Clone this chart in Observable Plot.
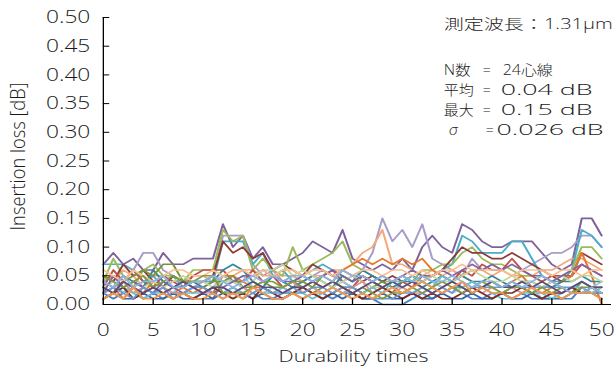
<!DOCTYPE html>
<html>
<head>
<meta charset="utf-8">
<script src="https://cdn.jsdelivr.net/npm/d3@7"></script>
<script src="https://cdn.jsdelivr.net/npm/@observablehq/plot@0.6"></script>
<style>
  html, body { margin: 0; padding: 0; background: #fff; }
  #chart { width: 616px; height: 369px; overflow: hidden; }
  #chart svg { transform-origin: 0 0; }
</style>
</head>
<body>
<div id="chart"></div>
<script>
// Durability test: insertion loss of each fibre after every mating cycle
const cycles = [0,1,2,3,4,5,6,7,8,9,10,11,12,13,14,15,16,17,18,19,20,21,22,23,24,25,
  26,27,28,29,30,31,32,33,34,35,36,37,38,39,40,41,42,43,44,45,46,47,48,49,50];

// insertion loss per fibre [dB], one value per cycle
const fiber01 = [0.07,0.09,0.07,0.08,0.06,0.06,0.09,0.07,0.07,0.08,
  0.08,0.08,0.14,0.10,0.12,0.08,0.10,0.07,0.07,0.08,
  0.09,0.11,0.10,0.09,0.13,0.08,0.07,0.06,0.07,0.06,
  0.08,0.06,0.10,0.12,0.10,0.09,0.14,0.13,0.11,0.10,
  0.10,0.11,0.11,0.11,0.09,0.07,0.06,0.07,0.15,0.15,0.12];
const fiber02 = [0.04,0.05,0.04,0.06,0.09,0.09,0.06,0.05,0.04,0.03,
  0.04,0.04,0.12,0.12,0.12,0.07,0.05,0.06,0.04,0.05,
  0.04,0.05,0.06,0.05,0.04,0.05,0.06,0.09,0.15,0.11,
  0.13,0.10,0.14,0.08,0.07,0.06,0.05,0.08,0.06,0.07,
  0.06,0.05,0.06,0.07,0.08,0.09,0.09,0.10,0.12,0.12,0.10];
const fiber03 = [0.05,0.04,0.06,0.05,0.03,0.05,0.05,0.04,0.04,0.05,
  0.05,0.04,0.05,0.05,0.06,0.06,0.05,0.05,0.05,0.05,
  0.04,0.05,0.05,0.06,0.06,0.07,0.09,0.10,0.13,0.07,
  0.07,0.06,0.05,0.06,0.05,0.06,0.05,0.06,0.06,0.05,
  0.06,0.05,0.05,0.05,0.06,0.06,0.07,0.08,0.08,0.07,0.06];
const fiber04 = [0.07,0.07,0.07,0.06,0.04,0.05,0.03,0.05,0.03,0.04,
  0.04,0.04,0.11,0.11,0.11,0.07,0.09,0.05,0.06,0.04,
  0.05,0.06,0.07,0.06,0.05,0.04,0.05,0.04,0.03,0.04,
  0.05,0.04,0.05,0.05,0.06,0.07,0.12,0.11,0.09,0.09,
  0.09,0.11,0.11,0.08,0.05,0.04,0.04,0.06,0.13,0.12,0.10];
const fiber05 = [0.04,0.08,0.05,0.03,0.06,0.07,0.05,0.05,0.04,0.06,
  0.06,0.06,0.13,0.11,0.12,0.06,0.08,0.06,0.05,0.10,
  0.06,0.07,0.08,0.09,0.11,0.07,0.06,0.05,0.04,0.04,
  0.05,0.04,0.06,0.06,0.07,0.07,0.09,0.10,0.08,0.07,
  0.07,0.06,0.05,0.05,0.04,0.05,0.05,0.06,0.10,0.10,0.08];
const fiber06 = [0.05,0.04,0.07,0.05,0.06,0.04,0.03,0.05,0.04,0.04,
  0.04,0.05,0.11,0.09,0.10,0.08,0.09,0.06,0.07,0.06,
  0.05,0.07,0.06,0.05,0.06,0.05,0.04,0.05,0.04,0.05,
  0.04,0.05,0.04,0.05,0.06,0.08,0.10,0.09,0.09,0.08,
  0.08,0.09,0.08,0.07,0.06,0.05,0.04,0.05,0.09,0.08,0.07];
const fiber07 = [0.03,0.06,0.04,0.06,0.04,0.03,0.05,0.04,0.03,0.05,
  0.06,0.06,0.06,0.04,0.04,0.06,0.04,0.05,0.03,0.04,
  0.03,0.04,0.05,0.06,0.04,0.03,0.05,0.04,0.03,0.02,
  0.04,0.03,0.05,0.04,0.03,0.04,0.06,0.05,0.07,0.06,
  0.06,0.08,0.06,0.05,0.04,0.05,0.05,0.05,0.07,0.06,0.05];
const fiber08 = [0.02,0.03,0.01,0.03,0.02,0.04,0.03,0.02,0.03,0.02,
  0.03,0.02,0.05,0.05,0.04,0.03,0.03,0.02,0.03,0.02,
  0.03,0.04,0.03,0.04,0.06,0.07,0.08,0.07,0.08,0.07,
  0.08,0.07,0.08,0.06,0.05,0.04,0.05,0.04,0.03,0.04,
  0.03,0.04,0.05,0.03,0.02,0.03,0.04,0.05,0.09,0.05,0.00];
const fiber09 = [0.02,0.01,0.02,0.03,0.01,0.02,0.01,0.02,0.02,0.01,
  0.01,0.01,0.04,0.04,0.03,0.02,0.01,0.01,0.02,0.02,
  0.02,0.03,0.02,0.01,0.02,0.02,0.01,0.01,0.00,0.00,
  0.00,0.01,0.02,0.01,0.02,0.03,0.02,0.01,0.01,0.02,
  0.02,0.01,0.02,0.01,0.01,0.02,0.01,0.01,0.03,0.02,0.02];
const fiber10 = [0.03,0.04,0.02,0.04,0.03,0.02,0.03,0.02,0.04,0.03,
  0.02,0.03,0.05,0.04,0.05,0.03,0.02,0.03,0.02,0.03,
  0.04,0.03,0.02,0.03,0.04,0.03,0.02,0.03,0.02,0.03,
  0.03,0.02,0.03,0.04,0.03,0.02,0.03,0.04,0.03,0.02,
  0.02,0.03,0.02,0.03,0.01,0.01,0.02,0.03,0.02,0.03,0.04];
const fiber11 = [0.04,0.03,0.05,0.04,0.03,0.06,0.04,0.03,0.03,0.04,
  0.03,0.04,0.06,0.07,0.06,0.04,0.03,0.05,0.04,0.03,
  0.04,0.05,0.04,0.03,0.05,0.04,0.06,0.05,0.04,0.03,
  0.04,0.04,0.03,0.04,0.05,0.04,0.05,0.04,0.04,0.05,
  0.04,0.03,0.04,0.04,0.03,0.03,0.04,0.04,0.05,0.04,0.04];
const fiber12 = [0.03,0.02,0.04,0.05,0.06,0.05,0.07,0.07,0.04,0.03,
  0.03,0.04,0.04,0.05,0.03,0.03,0.04,0.03,0.03,0.04,
  0.03,0.02,0.03,0.04,0.03,0.03,0.02,0.03,0.04,0.03,
  0.02,0.03,0.04,0.03,0.02,0.03,0.03,0.02,0.03,0.04,
  0.03,0.04,0.03,0.02,0.03,0.04,0.03,0.02,0.04,0.03,0.03];
const fiber13 = [0.01,0.02,0.01,0.01,0.02,0.01,0.01,0.02,0.01,0.01,
  0.02,0.01,0.02,0.03,0.02,0.01,0.02,0.01,0.01,0.02,
  0.01,0.02,0.01,0.02,0.01,0.02,0.01,0.01,0.02,0.01,
  0.01,0.02,0.01,0.01,0.02,0.01,0.01,0.02,0.01,0.01,
  0.02,0.01,0.01,0.02,0.01,0.01,0.01,0.02,0.02,0.02,0.01];
const fiber14 = [0.03,0.04,0.03,0.02,0.03,0.04,0.03,0.04,0.05,0.04,
  0.04,0.03,0.04,0.04,0.03,0.04,0.06,0.06,0.07,0.05,
  0.06,0.05,0.04,0.03,0.04,0.05,0.04,0.03,0.03,0.04,
  0.03,0.04,0.04,0.05,0.04,0.04,0.05,0.06,0.05,0.04,
  0.04,0.05,0.04,0.04,0.03,0.04,0.05,0.04,0.05,0.05,0.04];
const fiber15 = [0.02,0.03,0.04,0.02,0.03,0.02,0.03,0.02,0.02,0.03,
  0.02,0.02,0.03,0.02,0.03,0.02,0.03,0.02,0.03,0.04,
  0.02,0.03,0.02,0.03,0.02,0.03,0.04,0.02,0.03,0.02,
  0.03,0.02,0.02,0.03,0.02,0.03,0.02,0.03,0.02,0.03,
  0.02,0.03,0.02,0.03,0.02,0.02,0.03,0.02,0.03,0.02,0.03];
const fiber16 = [0.02,0.05,0.03,0.04,0.03,0.02,0.04,0.03,0.02,0.03,
  0.03,0.02,0.03,0.04,0.05,0.05,0.06,0.05,0.04,0.04,
  0.05,0.04,0.05,0.06,0.05,0.04,0.05,0.04,0.05,0.04,
  0.05,0.06,0.05,0.05,0.06,0.05,0.06,0.07,0.06,0.07,
  0.06,0.07,0.06,0.05,0.05,0.04,0.05,0.06,0.07,0.06,0.05];
const fiber17 = [0.01,0.02,0.03,0.02,0.01,0.02,0.02,0.01,0.02,0.02,
  0.02,0.03,0.02,0.03,0.02,0.03,0.02,0.02,0.03,0.02,
  0.02,0.01,0.02,0.03,0.02,0.01,0.02,0.03,0.02,0.04,
  0.04,0.05,0.04,0.03,0.05,0.04,0.03,0.04,0.03,0.02,
  0.01,0.01,0.02,0.02,0.02,0.01,0.02,0.03,0.03,0.02,0.03];
const fiber18 = [0.06,0.05,0.04,0.06,0.05,0.04,0.05,0.06,0.06,0.05,
  0.05,0.06,0.05,0.06,0.06,0.05,0.06,0.05,0.06,0.06,
  0.05,0.06,0.06,0.05,0.06,0.05,0.06,0.06,0.05,0.06,
  0.06,0.05,0.06,0.05,0.06,0.06,0.07,0.06,0.06,0.06,
  0.06,0.05,0.06,0.06,0.06,0.05,0.06,0.06,0.05,0.06,0.06];
const fiber19 = [0.01,0.02,0.03,0.01,0.02,0.03,0.02,0.01,0.02,0.01,
  0.02,0.03,0.02,0.01,0.02,0.01,0.03,0.02,0.01,0.02,
  0.03,0.02,0.01,0.02,0.03,0.02,0.01,0.02,0.03,0.02,
  0.01,0.02,0.01,0.02,0.01,0.01,0.02,0.03,0.02,0.01,
  0.02,0.02,0.03,0.02,0.01,0.02,0.02,0.03,0.02,0.03,0.02];
const fiber20 = [0.02,0.03,0.02,0.01,0.03,0.02,0.03,0.01,0.02,0.03,
  0.03,0.02,0.01,0.02,0.01,0.02,0.03,0.02,0.02,0.03,
  0.02,0.03,0.03,0.02,0.03,0.03,0.02,0.01,0.01,0.01,
  0.02,0.02,0.03,0.02,0.03,0.02,0.04,0.03,0.03,0.03,
  0.03,0.03,0.03,0.03,0.03,0.03,0.03,0.03,0.04,0.03,0.02];
const fiber21 = [0.05,0.04,0.03,0.04,0.05,0.03,0.04,0.05,0.04,0.04,
  0.05,0.05,0.02,0.02,0.02,0.03,0.04,0.04,0.03,0.04,
  0.04,0.03,0.05,0.04,0.03,0.02,0.03,0.02,0.01,0.02,
  0.02,0.03,0.02,0.03,0.04,0.03,0.02,0.03,0.04,0.03,
  0.02,0.03,0.03,0.02,0.03,0.02,0.03,0.02,0.03,0.03,0.02];
const fiber22 = [0.03,0.02,0.04,0.03,0.02,0.03,0.02,0.03,0.04,0.03,
  0.02,0.03,0.03,0.02,0.03,0.04,0.03,0.03,0.02,0.03,
  0.03,0.04,0.03,0.04,0.03,0.02,0.03,0.04,0.03,0.04,
  0.03,0.04,0.03,0.02,0.03,0.04,0.03,0.02,0.03,0.04,
  0.03,0.03,0.04,0.03,0.04,0.03,0.02,0.03,0.04,0.03,0.03];
const fiber23 = [0.04,0.03,0.05,0.03,0.04,0.04,0.05,0.03,0.03,0.04,
  0.04,0.05,0.04,0.03,0.04,0.05,0.04,0.05,0.04,0.05,
  0.05,0.04,0.05,0.04,0.06,0.05,0.05,0.04,0.05,0.04,
  0.05,0.04,0.05,0.04,0.04,0.05,0.04,0.03,0.04,0.04,
  0.03,0.04,0.03,0.04,0.05,0.04,0.03,0.02,0.02,0.03,0.02];
const fiber24 = [0.01,0.02,0.01,0.03,0.01,0.01,0.02,0.01,0.02,0.01,
  0.01,0.02,0.01,0.02,0.01,0.03,0.02,0.01,0.01,0.02,
  0.01,0.02,0.02,0.03,0.02,0.01,0.02,0.01,0.02,0.03,
  0.02,0.03,0.04,0.03,0.02,0.03,0.04,0.02,0.03,0.02,
  0.02,0.01,0.02,0.03,0.02,0.02,0.01,0.02,0.02,0.02,0.01];

const fibers = [fiber01, fiber02, fiber03, fiber04, fiber05, fiber06, fiber07, fiber08,
  fiber09, fiber10, fiber11, fiber12, fiber13, fiber14, fiber15, fiber16,
  fiber17, fiber18, fiber19, fiber20, fiber21, fiber22, fiber23, fiber24];
const fiberNames = ["#1","#2","#3","#4","#5","#6","#7","#8","#9","#10","#11","#12",
  "#13","#14","#15","#16","#17","#18","#19","#20","#21","#22","#23","#24"];
const fiberColors = ["#7E619A","#A89CC9","#F5A97A","#4BACC6","#9BBB59","#8E3A38",
  "#C0504D","#E6782A","#4F81BD","#93CDDD","#31859C","#77933C",
  "#3B64A0","#C3D69B","#D99694","#8064A2","#6FBDD1","#FAC090",
  "#7B2E2C","#6A98D0","#7E9D40","#5F4A7E","#8DB3E2","#F79646"];

const xTicks = [0,5,10,15,20,25,30,35,40,45,50];
const yTicks = [0,0.05,0.10,0.15,0.20,0.25,0.30,0.35,0.40,0.45,0.50];

const xTitle = "Durability times";
const yTitle = "Insertion loss [dB]";
const wavelengthNote = "測定波長：1.31μm";
const statLabels = ["N数", "平均", "最大", "σ"];
const statValues = ["24心線", "0.04 dB", "0.15 dB", "0.026 dB"];

const rows = fibers.flatMap((vals, i) =>
  vals.map((v, j) => ({cycle: cycles[j], loss: v, fiber: fiberNames[i]})));

// drawn narrow, then widened horizontally to the page width
const stretch = 1.3;
const baseWidth = 474;
const font = "'Open Sans', 'Noto Sans CJK JP', sans-serif";
const weight = 350;
const noteWeight = 300;
const ink = "#1a1a1a";

// text block in the upper right: column offsets from the frame's left edge
const noteSize = 14;
const statTop = 53, statGap = 20;
const statMarks = statLabels.flatMap((label, i) => {
  const isSigma = label === "σ";
  const common = {text: d => d, frameAnchor: "top-left", textAnchor: "start", lineAnchor: "middle",
    dy: statTop + i * statGap, fontSize: noteSize, fontWeight: noteWeight, fill: ink};
  return [
    Plot.text([label], {...common, dx: isSigma ? 265.6 : 261.8, fontStyle: isSigma ? "italic" : "normal"}),
    Plot.text(["="], {...common, dx: isSigma ? 294.1 : 291.8}),
    Plot.text([statValues[i]], {...common, dx: isSigma ? 302.5 : (i === 0 ? 307.2 : 305.6)})
  ];
});

// rendered widths (page pixels) of the annotation strings
const textWidths = new Map([
  [wavelengthNote, 169], ["N数", 27], ["平均", 30], ["最大", 30], ["σ", 9], ["=", 8],
  ["24心線", 50], ["0.04 dB", 92], ["0.15 dB", 92], ["0.026 dB", 107], [xTitle, 150]
]);

const chart = Plot.plot({
  width: baseWidth,
  height: 369,
  marginLeft: 79,
  marginRight: 4,
  marginTop: 17,
  marginBottom: 65,
  style: {fontFamily: font, color: ink, background: "#fff", overflow: "visible"},
  x: {domain: [0, 51], label: null},
  y: {domain: [0, 0.5], label: null},
  color: {domain: fiberNames, range: fiberColors},
  marks: [
    Plot.line(rows, {x: "cycle", y: "loss", z: "fiber", stroke: "fiber",
      strokeWidth: 1.6, strokeLinejoin: "round", strokeLinecap: "round"}),
    // axis lines
    Plot.ruleX([0], {stroke: "#000", strokeWidth: 1}),
    Plot.ruleY([0], {stroke: "#000", strokeWidth: 1}),
    // inward tick marks
    Plot.axisY({ticks: yTicks, tickSize: -5, tickFormat: () => "", label: null, stroke: "#000"}),
    Plot.axisX({ticks: xTicks, tickSize: -6, tickFormat: () => "", label: null, stroke: "#000"}),
    // tick labels
    Plot.axisY({ticks: yTicks, tickSize: 0, tickPadding: 10, tickFormat: d3.format(".2f"),
      label: null, fontSize: 17.5, fontWeight: weight, fill: ink}),
    Plot.axisX({ticks: xTicks, tickSize: 0, tickPadding: 19, tickFormat: d3.format("d"),
      label: null, fontSize: 17.5, fontWeight: weight, fill: ink}),
    // axis titles
    Plot.text([xTitle], {text: d => d, frameAnchor: "bottom", textAnchor: "middle", lineAnchor: "middle",
      dx: -3, dy: 52, fontSize: 16, fontWeight: weight, fill: ink}),
    Plot.text([yTitle], {text: d => d, frameAnchor: "left", textAnchor: "middle", lineAnchor: "middle",
      rotate: -90, dx: -65.2, dy: -4.5, fontSize: 15, fontWeight: 300, fill: ink}),
    // measurement conditions
    Plot.text([wavelengthNote], {text: d => d, frameAnchor: "top-left", textAnchor: "start",
      lineAnchor: "middle", dx: 261.8, dy: 7, fontSize: noteSize, fontWeight: noteWeight, fill: ink}),
    ...statMarks
  ]
});

// fit the annotation strings to their set widths
d3.select(chart).selectAll("text").each(function () {
  const w = textWidths.get(this.textContent);
  if (w) {
    this.setAttribute("textLength", w / stretch);
    this.setAttribute("lengthAdjust", "spacingAndGlyphs");
  }
  if (this.textContent === yTitle) {
    // rotated text runs vertically, where no widening applies
    this.setAttribute("textLength", 148);
    this.setAttribute("lengthAdjust", "spacingAndGlyphs");
  }
});

chart.style.transform = `scaleX(${stretch})`;
document.getElementById("chart").appendChild(chart);
</script>
</body>
</html>
